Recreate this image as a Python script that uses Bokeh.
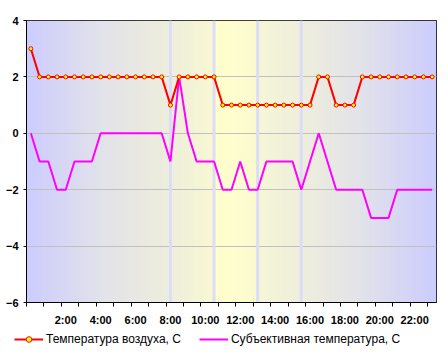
import numpy as np
from bokeh.plotting import figure
from bokeh.layouts import column, row
from bokeh.models import (Range1d, FixedTicker, Legend, LegendItem, Span)
from bokeh.embed import file_html
from bokeh.resources import INLINE

# ---- data ----
times = ["0:00", "0:30", "1:00", "1:30", "2:00", "2:30", "3:00", "3:30",
         "4:00", "4:30", "5:00", "5:30", "6:00", "6:30", "7:00", "7:30",
         "8:00", "8:30", "9:00", "9:30", "10:00", "10:30", "11:00", "11:30",
         "12:00", "12:30", "13:00", "13:30", "14:00", "14:30", "15:00", "15:30",
         "16:00", "16:30", "17:00", "17:30", "18:00", "18:30", "19:00", "19:30",
         "20:00", "20:30", "21:00", "21:30", "22:00", "22:30", "23:00"]
air_temp = [3, 2, 2, 2, 2, 2, 2, 2, 2, 2, 2, 2, 2, 2, 2, 2,
            1, 2, 2, 2, 2, 2, 1, 1, 1, 1, 1, 1, 1, 1, 1, 1,
            1, 2, 2, 1, 1, 1, 2, 2, 2, 2, 2, 2, 2, 2, 2]
feels_temp = [0, -1, -1, -2, -2, -1, -1, -1, 0, 0, 0, 0, 0, 0, 0, 0,
              -1, 2, 0, -1, -1, -1, -2, -2, -1, -2, -2, -1, -1, -1, -1, -2,
              -1, 0, -1, -2, -2, -2, -2, -3, -3, -3, -2, -2, -2, -2, -2]
x_labels = ["2:00", "4:00", "6:00", "8:00", "10:00", "12:00",
            "14:00", "16:00", "18:00", "20:00", "22:00"]
y_ticks = [-6, -4, -2, 0, 2, 4]
band_times = ["8:00", "10:30", "13:00", "15:30"]
series_names = ["Температура воздуха, С", "Субъективная температура, С"]

AIR_COLOR = "#ff0000"
FEELS_COLOR = "#ff00ff"
MARK_FILL = "#ffff00"


def to_hours(t):
    h, m = t.split(":")
    return int(h) + int(m) / 60.0


hours = [to_hours(t) for t in times]
label_hours = [to_hours(t) for t in x_labels]
band_hours = [to_hours(t) for t in band_times]

x0 = hours[0] - 0.25
x1 = hours[-1] + 0.25

p = figure(width=448, height=328, frame_width=410, frame_height=282,
           x_range=Range1d(x0, x1), y_range=Range1d(-6, 4),
           output_backend="svg", toolbar_location=None,
           min_border_left=26, min_border_right=12,
           min_border_top=20, min_border_bottom=26)
p.background_fill_color = "white"
p.border_fill_color = "white"
p.outline_line_color = "black"
p.outline_line_width = 1

# ---- background gradient ----
stops = [(x0, "#ccccff"), (4.0, "#e2e2ea"), (band_hours[0], "#eeeedc"),
         (band_hours[1] - 0.001, "#f8f8d2"), (band_hours[1], "#ffffcc"),
         (band_hours[2] - 0.001, "#fafad0"), (band_hours[2], "#f6f6d6"),
         (band_hours[3], "#eeeedd"), (19.0, "#e2e2ea"), (x1, "#ccccff")]
N = 940
xs = np.linspace(x0, x1, N)
sx = [s[0] for s in stops]
def ch(c, i):
    return int(c[1 + 2 * i:3 + 2 * i], 16)
r = np.interp(xs, sx, [ch(s[1], 0) for s in stops])
g = np.interp(xs, sx, [ch(s[1], 1) for s in stops])
b = np.interp(xs, sx, [ch(s[1], 2) for s in stops])
img = np.zeros((1, N), dtype=np.uint32)
view = img.view(dtype=np.uint8).reshape((1, N, 4))
view[0, :, 0] = np.round(r).astype(np.uint8)
view[0, :, 1] = np.round(g).astype(np.uint8)
view[0, :, 2] = np.round(b).astype(np.uint8)
view[0, :, 3] = 255
bg = p.image_rgba(image=[img], x=x0, y=-6, dw=x1 - x0, dh=10)
bg.level = "image"

# ---- grid ----
p.xgrid.visible = False
p.ygrid.ticker = FixedTicker(ticks=y_ticks)
p.ygrid.grid_line_color = "#c0c0c0"
p.ygrid.grid_line_width = 1

# ---- bands ----
for bh in band_hours:
    p.add_layout(Span(location=bh, dimension="height",
                      line_color="#dcdcf8", line_width=3, level="underlay"))

# ---- series ----
p.line(hours, feels_temp, line_color=FEELS_COLOR, line_width=2)
p.line(hours, air_temp, line_color=AIR_COLOR, line_width=2)
p.scatter(hours, air_temp, marker="circle", size=4,
          fill_color=MARK_FILL, line_color=AIR_COLOR, line_width=1)

# ---- axes ----
xa = p.xaxis[0]
xa.ticker = FixedTicker(ticks=label_hours,
                        minor_ticks=[h - 0.25 for h in range(24)])
xa.major_label_overrides = {h: t for h, t in zip(label_hours, x_labels)}
xa.major_tick_out = 0
xa.major_tick_in = 0
xa.minor_tick_out = 4
xa.minor_tick_in = 0
xa.minor_tick_line_color = "black"
xa.axis_line_color = "black"
xa.major_label_standoff = 7
xa.major_label_text_font = "Liberation Sans"
xa.major_label_text_font_style = "bold"
xa.major_label_text_font_size = "11px"
xa.major_label_text_color = "black"

ya = p.yaxis[0]
ya.ticker = FixedTicker(ticks=y_ticks)
ya.major_tick_out = 3
ya.major_tick_in = 0
ya.minor_tick_out = 0
ya.minor_tick_in = 0
ya.axis_line_color = "black"
ya.major_label_standoff = 5
ya.major_label_text_font = "Liberation Sans"
ya.major_label_text_font_style = "bold"
ya.major_label_text_font_size = "11px"
ya.major_label_text_color = "black"

# ---- legend strip (its own renderers lie outside its visible range) ----
lg = figure(width=448, height=28, x_range=Range1d(-2, -1), y_range=Range1d(-2, -1),
            output_backend="svg", toolbar_location=None,
            x_axis_location=None, y_axis_location=None,
            min_border=0, min_border_left=0, min_border_right=0,
            min_border_top=0, min_border_bottom=0)
lg.grid.visible = False
lg.outline_line_color = None
lg.background_fill_color = "white"
lg.border_fill_color = "white"
d_air = lg.line(hours, air_temp, line_color=AIR_COLOR, line_width=2)
d_air_m = lg.scatter(hours, air_temp, marker="circle", size=4,
                     fill_color=MARK_FILL, line_color=AIR_COLOR, line_width=1)
d_feels = lg.line(hours, feels_temp, line_color=FEELS_COLOR, line_width=2)
legend = Legend(items=[LegendItem(label=series_names[0], renderers=[d_air, d_air_m]),
                       LegendItem(label=series_names[1], renderers=[d_feels])],
                orientation="horizontal", location=(14, 10),
                padding=0, margin=0, spacing=18,
                glyph_width=29, glyph_height=14, label_standoff=3,
                border_line_color=None, background_fill_alpha=0,
                label_text_font="Liberation Sans", label_text_font_size="12px",
                label_text_color="black")
lg.add_layout(legend, "center")

layout = column(p, row(lg, spacing=0), spacing=0)
open("out.html", "w").write(file_html(layout, INLINE))
